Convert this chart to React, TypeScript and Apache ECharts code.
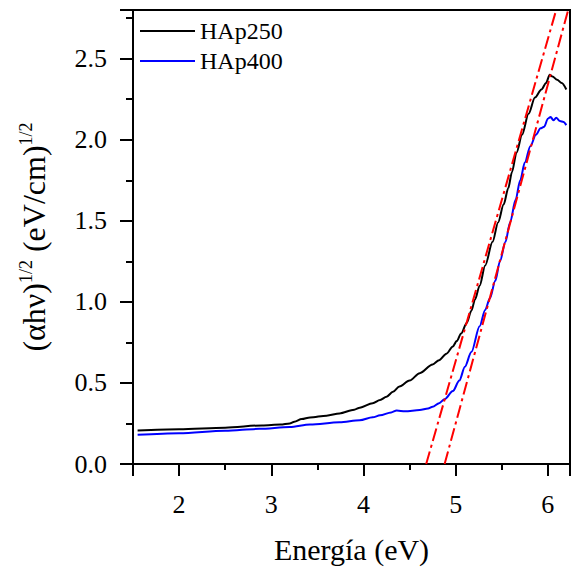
import React, { useEffect, useRef } from "react";
import * as echarts from "echarts";

const FONT = "Liberation Serif";

const seriesNames = ["HAp250", "HAp400"];

const hap250X = [1.55, 2.0, 2.5, 2.9, 3.1, 3.2, 3.25, 3.33, 3.42, 3.6, 3.74, 3.9, 3.96, 4.1, 4.18, 4.25, 4.32, 4.39, 4.5, 4.61, 4.75, 4.82, 4.9, 4.97, 5.01, 5.06, 5.12, 5.17, 5.21, 5.26, 5.32, 5.4, 5.46, 5.52, 5.57, 5.61, 5.66, 5.72, 5.79, 5.86, 5.93, 5.98, 6.02, 6.05, 6.1, 6.15, 6.2];
const hap250Y = [0.206, 0.214, 0.224, 0.238, 0.243, 0.25, 0.26, 0.277, 0.287, 0.298, 0.312, 0.335, 0.347, 0.375, 0.395, 0.415, 0.445, 0.478, 0.515, 0.56, 0.614, 0.64, 0.68, 0.725, 0.758, 0.805, 0.87, 0.945, 1.015, 1.1, 1.225, 1.37, 1.49, 1.6, 1.7, 1.8, 1.92, 2.03, 2.16, 2.26, 2.31, 2.35, 2.4, 2.39, 2.37, 2.35, 2.31];

const hap400X = [1.55, 2.0, 2.5, 2.87, 3.2, 3.42, 3.74, 3.96, 4.1, 4.18, 4.3, 4.36, 4.45, 4.61, 4.7, 4.75, 4.82, 4.88, 4.97, 5.04, 5.1, 5.17, 5.26, 5.32, 5.37, 5.43, 5.48, 5.54, 5.59, 5.65, 5.7, 5.75, 5.81, 5.87, 5.92, 5.96, 6.0, 6.03, 6.06, 6.09, 6.13, 6.17, 6.2];
const hap400Y = [0.18, 0.19, 0.205, 0.217, 0.228, 0.243, 0.257, 0.27, 0.288, 0.3, 0.318, 0.33, 0.325, 0.333, 0.342, 0.353, 0.375, 0.4, 0.45, 0.515, 0.6, 0.69, 0.85, 0.95, 1.02, 1.13, 1.25, 1.37, 1.49, 1.63, 1.75, 1.86, 1.96, 2.03, 2.07, 2.08, 2.13, 2.14, 2.12, 2.135, 2.115, 2.11, 2.09];

// Tangent (Tauc) fit lines: [x, y] endpoints
const fit250 = [[4.68, 0], [6.09, 2.8]];
const fit400 = [[4.88, 0], [6.22, 2.8]];

const xMin = 1.5;
const xMax = 6.24;
const yMin = 0;
const yMax = 2.8;
const yInterval = 0.5;

const zip = (xs: number[], ys: number[]) => xs.map((x, i) => [x, ys[i]]);

export default function App() {
  const ref = useRef<HTMLDivElement>(null);
  useEffect(() => {
    if (!ref.current) return;
    const chart = echarts.init(ref.current, null, { renderer: "svg" });
    const fitStyle = { color: "#ff0000", width: 2, type: [13, 4, 3, 4] as any };
    chart.setOption({
      animation: false,
      backgroundColor: "#ffffff",
      textStyle: { fontFamily: FONT },
      grid: {
        left: 133,
        right: 8,
        top: 10,
        bottom: 107,
        show: true,
        borderColor: "#000",
        borderWidth: 2,
        backgroundColor: "transparent",
        outerBoundsMode: "none",
      },
      legend: {
        data: seriesNames.map((n) => ({ name: n, icon: "rect" })),
        orient: "vertical",
        left: 140,
        top: 19,
        padding: 0,
        itemWidth: 55,
        itemHeight: 2,
        itemGap: 6,
        textStyle: { fontFamily: FONT, fontSize: 24, color: "#000" },
      },
      xAxis: {
        type: "value",
        min: xMin,
        max: xMax,
        splitLine: { show: false },
        axisLine: { show: true, lineStyle: { color: "#000", width: 2 } },
        axisTick: { show: true, inside: false, length: 12, lineStyle: { color: "#000", width: 2 } },
        minorTick: { show: true, splitNumber: 2, length: 6, lineStyle: { color: "#000", width: 2 } },
        minorSplitLine: { show: false },
        axisLabel: {
          fontFamily: FONT,
          fontSize: 26,
          color: "#000",
          margin: 27,
          formatter: (v: number) => (Math.abs(v - Math.round(v)) < 1e-6 ? String(Math.round(v)) : ""),
        },
        name: "Energía (eV)",
        nameLocation: "middle",
        nameGap: 70,
        nameTextStyle: { fontFamily: FONT, fontSize: 30, color: "#000" },
      },
      yAxis: {
        type: "value",
        min: yMin,
        max: yMax,
        interval: yInterval,
        splitLine: { show: false },
        axisLine: { show: true, lineStyle: { color: "#000", width: 2 } },
        axisTick: { show: true, inside: false, length: 13, lineStyle: { color: "#000", width: 2 } },
        minorTick: { show: true, splitNumber: 2, length: 7, lineStyle: { color: "#000", width: 2 } },
        minorSplitLine: { show: false },
        axisLabel: {
          fontFamily: FONT,
          fontSize: 26,
          color: "#000",
          margin: 26,
          formatter: (v: number) =>
            Math.abs(v * 2 - Math.round(v * 2)) < 1e-6 ? v.toFixed(1) : "",
        },
        name: "{a|(αhν)}{s|1/2}{a| (eV/cm)}{s|1/2}",
        nameLocation: "middle",
        nameGap: 82,
        nameRotate: 90,
        nameTextStyle: {
          color: "#000",
          rich: {
            a: { fontFamily: FONT, fontSize: 32, color: "#000", lineHeight: 34 },
            s: { fontFamily: FONT, fontSize: 18, color: "#000", verticalAlign: "top", lineHeight: 18 },
          },
        },
      },
      series: [
        {
          name: seriesNames[0],
          type: "line",
          data: zip(hap250X, hap250Y),
          showSymbol: false,
          symbol: "none",
          smooth: 0.3,
          smoothMonotone: "x",
          lineStyle: { color: "#000000", width: 2 },
          itemStyle: { color: "#000000" },
          z: 3,
        },
        {
          name: seriesNames[1],
          type: "line",
          data: zip(hap400X, hap400Y),
          showSymbol: false,
          symbol: "none",
          smooth: 0.3,
          smoothMonotone: "x",
          lineStyle: { color: "#0000ff", width: 2 },
          itemStyle: { color: "#0000ff" },
          z: 3,
        },
        {
          name: "fit250",
          type: "line",
          data: fit250,
          showSymbol: false,
          symbol: "none",
          lineStyle: fitStyle,
          z: 4,
        },
        {
          name: "fit400",
          type: "line",
          data: fit400,
          showSymbol: false,
          symbol: "none",
          lineStyle: fitStyle,
          z: 4,
        },
      ],
    });
    return () => chart.dispose();
  }, []);
  return (
    <div
      ref={ref}
      style={{ position: "absolute", left: 0, top: 0, width: 578, height: 571 }}
    />
  );
}
